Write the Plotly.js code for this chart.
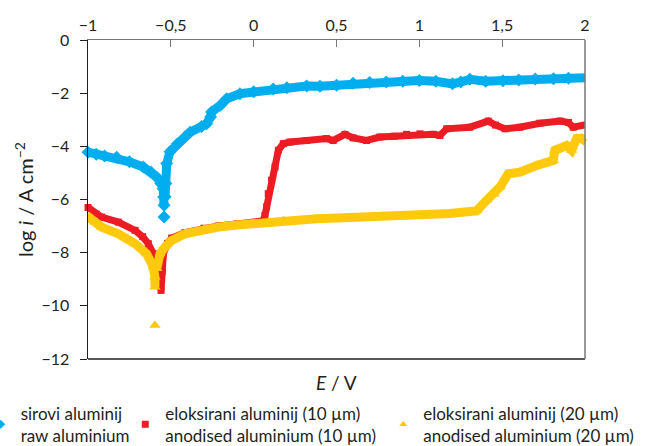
<!DOCTYPE html>
<html>
<head>
<meta charset="utf-8">
<script src="https://cdn.plot.ly/plotly-3.0.1.min.js"></script>
<style>html,body{margin:0;padding:0;background:#fff;}#chart{width:651px;height:446px;}</style>
</head>
<body>
<div id="chart"></div>
<script>
// Potential E / V and log i / A cm^-2
const rawE = [-1.0,-0.95,-0.9,-0.827,-0.75,-0.666,-0.62,-0.585,-0.56,-0.546,-0.543,-0.541,-0.541,-0.541,-0.541,-0.535,-0.53,-0.525,-0.505,-0.46,-0.415,-0.384,-0.314,-0.284,-0.26,-0.254,-0.2,-0.163,-0.083,0.0,0.118,0.2,0.32,0.4,0.5,0.6,0.7,0.8,0.9,1.0,1.1,1.2,1.25,1.305,1.4,1.505,1.6,1.7,1.81,1.9,2.01];
const rawLogI = [-4.22,-4.3,-4.36,-4.41,-4.58,-4.78,-4.97,-5.16,-5.4,-5.6,-5.91,-6.22,null,-6.66,null,-5.9,-5.4,-4.65,-4.2,-3.9,-3.65,-3.47,-3.25,-3.15,-2.9,-2.71,-2.45,-2.21,-2.02,-1.95,-1.84,-1.80,-1.73,-1.74,-1.70,-1.63,-1.60,-1.58,-1.55,-1.52,-1.55,-1.65,-1.58,-1.48,-1.55,-1.53,-1.50,-1.47,-1.46,-1.44,-1.42];

const an10E = [-1.0,-0.95,-0.918,-0.817,-0.716,-0.67,-0.636,-0.606,-0.585,-0.565,-0.559,-0.552,-0.545,-0.52,-0.495,-0.415,-0.3,-0.214,-0.1,0.0,0.06,0.068,0.078,0.088,0.108,0.129,0.149,0.179,0.219,0.32,0.44,0.48,0.551,0.6,0.681,0.762,0.85,0.923,1.004,1.084,1.124,1.165,1.305,1.416,1.46,1.517,1.607,1.728,1.849,1.9,1.929,2.01];
const an10LogI = [-6.3,-6.55,-6.66,-6.85,-7.16,-7.4,-7.66,-8.04,-8.54,-9.04,-9.42,-8.7,-8.04,-7.65,-7.45,-7.25,-7.08,-7.0,-6.92,-6.86,-6.8,-6.6,-6.28,-5.78,-5.28,-4.78,-4.15,-3.90,-3.84,-3.78,-3.71,-3.78,-3.55,-3.68,-3.78,-3.65,-3.62,-3.55,-3.53,-3.55,-3.59,-3.34,-3.28,-3.05,-3.2,-3.34,-3.28,-3.13,-3.05,-3.1,-3.28,-3.18];

const an20E = [-1.008,-0.96,-0.918,-0.817,-0.716,-0.646,-0.606,-0.596,-0.596,-0.596,-0.596,-0.596,-0.585,-0.565,-0.53,-0.495,-0.415,-0.3,-0.214,-0.1,-0.012,0.179,0.38,0.581,0.782,0.984,1.185,1.305,1.346,1.406,1.45,1.487,1.537,1.607,1.708,1.808,1.818,1.889,1.919,1.949,1.98,2.01];
const an20LogI = [-6.6,-6.85,-7.04,-7.29,-7.66,-8.04,-8.54,-8.92,-9.29,null,-10.73,null,-8.6,-8.04,-7.75,-7.54,-7.29,-7.12,-7.04,-6.96,-6.91,-6.79,-6.72,-6.68,-6.64,-6.60,-6.53,-6.45,-6.43,-6.03,-5.8,-5.53,-5.03,-4.97,-4.72,-4.53,-4.15,-3.97,-4.15,-3.71,-3.7,-3.84];

const seriesNames = ['sirovi aluminij<br>raw aluminium','eloksirani aluminij (10 µm)<br>anodised aluminium (10 µm)','eloksirani aluminij (20 µm)<br>anodised aluminium (20 µm)'];
const xTickVals = [-1,-0.5,0,0.5,1,1.5,2];
const yTickVals = [0,-2,-4,-6,-8,-10,-12];

const colors = ['#00AEEF','#ED1C24','#FFC90E'];
const symbols = ['diamond','square','triangle-up'];
const lw = [9,7,9];
const ms = [10,7,10];
const xs = [rawE, an10E, an20E];
const ys = [rawLogI, an10LogI, an20LogI];
const legendIds = ['legend','legend2','legend3'];

const data = [];
for (let i=0;i<3;i++){
  data.push({x:xs[i], y:ys[i], type:'scatter', mode:'lines+markers', showlegend:false,
    connectgaps:false, cliponaxis:false,
    line:{color:colors[i], width:lw[i]},
    marker:{color:colors[i], symbol:symbols[i], size:ms[i]}});
}
for (let i=0;i<3;i++){
  data.push({x:[null], y:[null], type:'scatter', mode:'markers', name:seriesNames[i],
    legend:legendIds[i],
    marker:{color:colors[i], symbol:symbols[i], size:7}});
}

const font = 'Lato, "Open Sans", sans-serif';
const legFont = {family:font, size:17, color:'#231f20'};
function leg(x){ return {orientation:'h', x:x, xanchor:'left', y:-0.115, yanchor:'top',
  font:legFont, bgcolor:'rgba(0,0,0,0)'}; }
const layout = {
  width:651, height:446,
  margin:{l:88, r:66, t:39.5, b:87, autoexpand:false},
  paper_bgcolor:'#fff', plot_bgcolor:'#fff',
  separators:', ',
  font:{family:font, color:'#231f20', size:16},
  xaxis:{range:[-1,2], side:'top', tickvals:xTickVals, ticks:'inside', ticklen:7, tickcolor:'#777',
    ticklabelstandoff:2,
    showline:true, linecolor:'#777', linewidth:1, showgrid:false, zeroline:false,
    tickfont:{family:font, size:16, color:'#231f20'}},
  yaxis:{range:[-12,0], tickvals:yTickVals, ticks:'outside', ticklen:7, tickcolor:'#231f20',
    ticklabelstandoff:7,
    showline:true, linecolor:'#231f20', linewidth:1.5, showgrid:false, zeroline:false,
    tickfont:{family:font, size:16, color:'#231f20'},
    title:{text:'log <i>i</i> / A cm<sup>−2</sup>', font:{family:font, size:20}, standoff:2}},
  shapes:[
    {type:'line', xref:'paper', yref:'paper', x0:0, x1:1, y0:0, y1:0, line:{color:'#231f20', width:1.5}},
    {type:'line', xref:'paper', yref:'paper', x0:1, x1:1, y0:0, y1:1, line:{color:'#777', width:1.5}}
  ],
  annotations:[
    {text:'<i>E</i> / V', xref:'paper', yref:'paper', x:0.5, y:-0.075, xanchor:'center', yanchor:'middle',
     showarrow:false, font:{family:font, size:19, color:'#231f20'}}
  ],
  legend:leg(-0.216),
  legend2:leg(0.075),
  legend3:leg(0.594)
};
Plotly.newPlot('chart', data, layout, {staticPlot:true, displayModeBar:false});
</script>
</body>
</html>
